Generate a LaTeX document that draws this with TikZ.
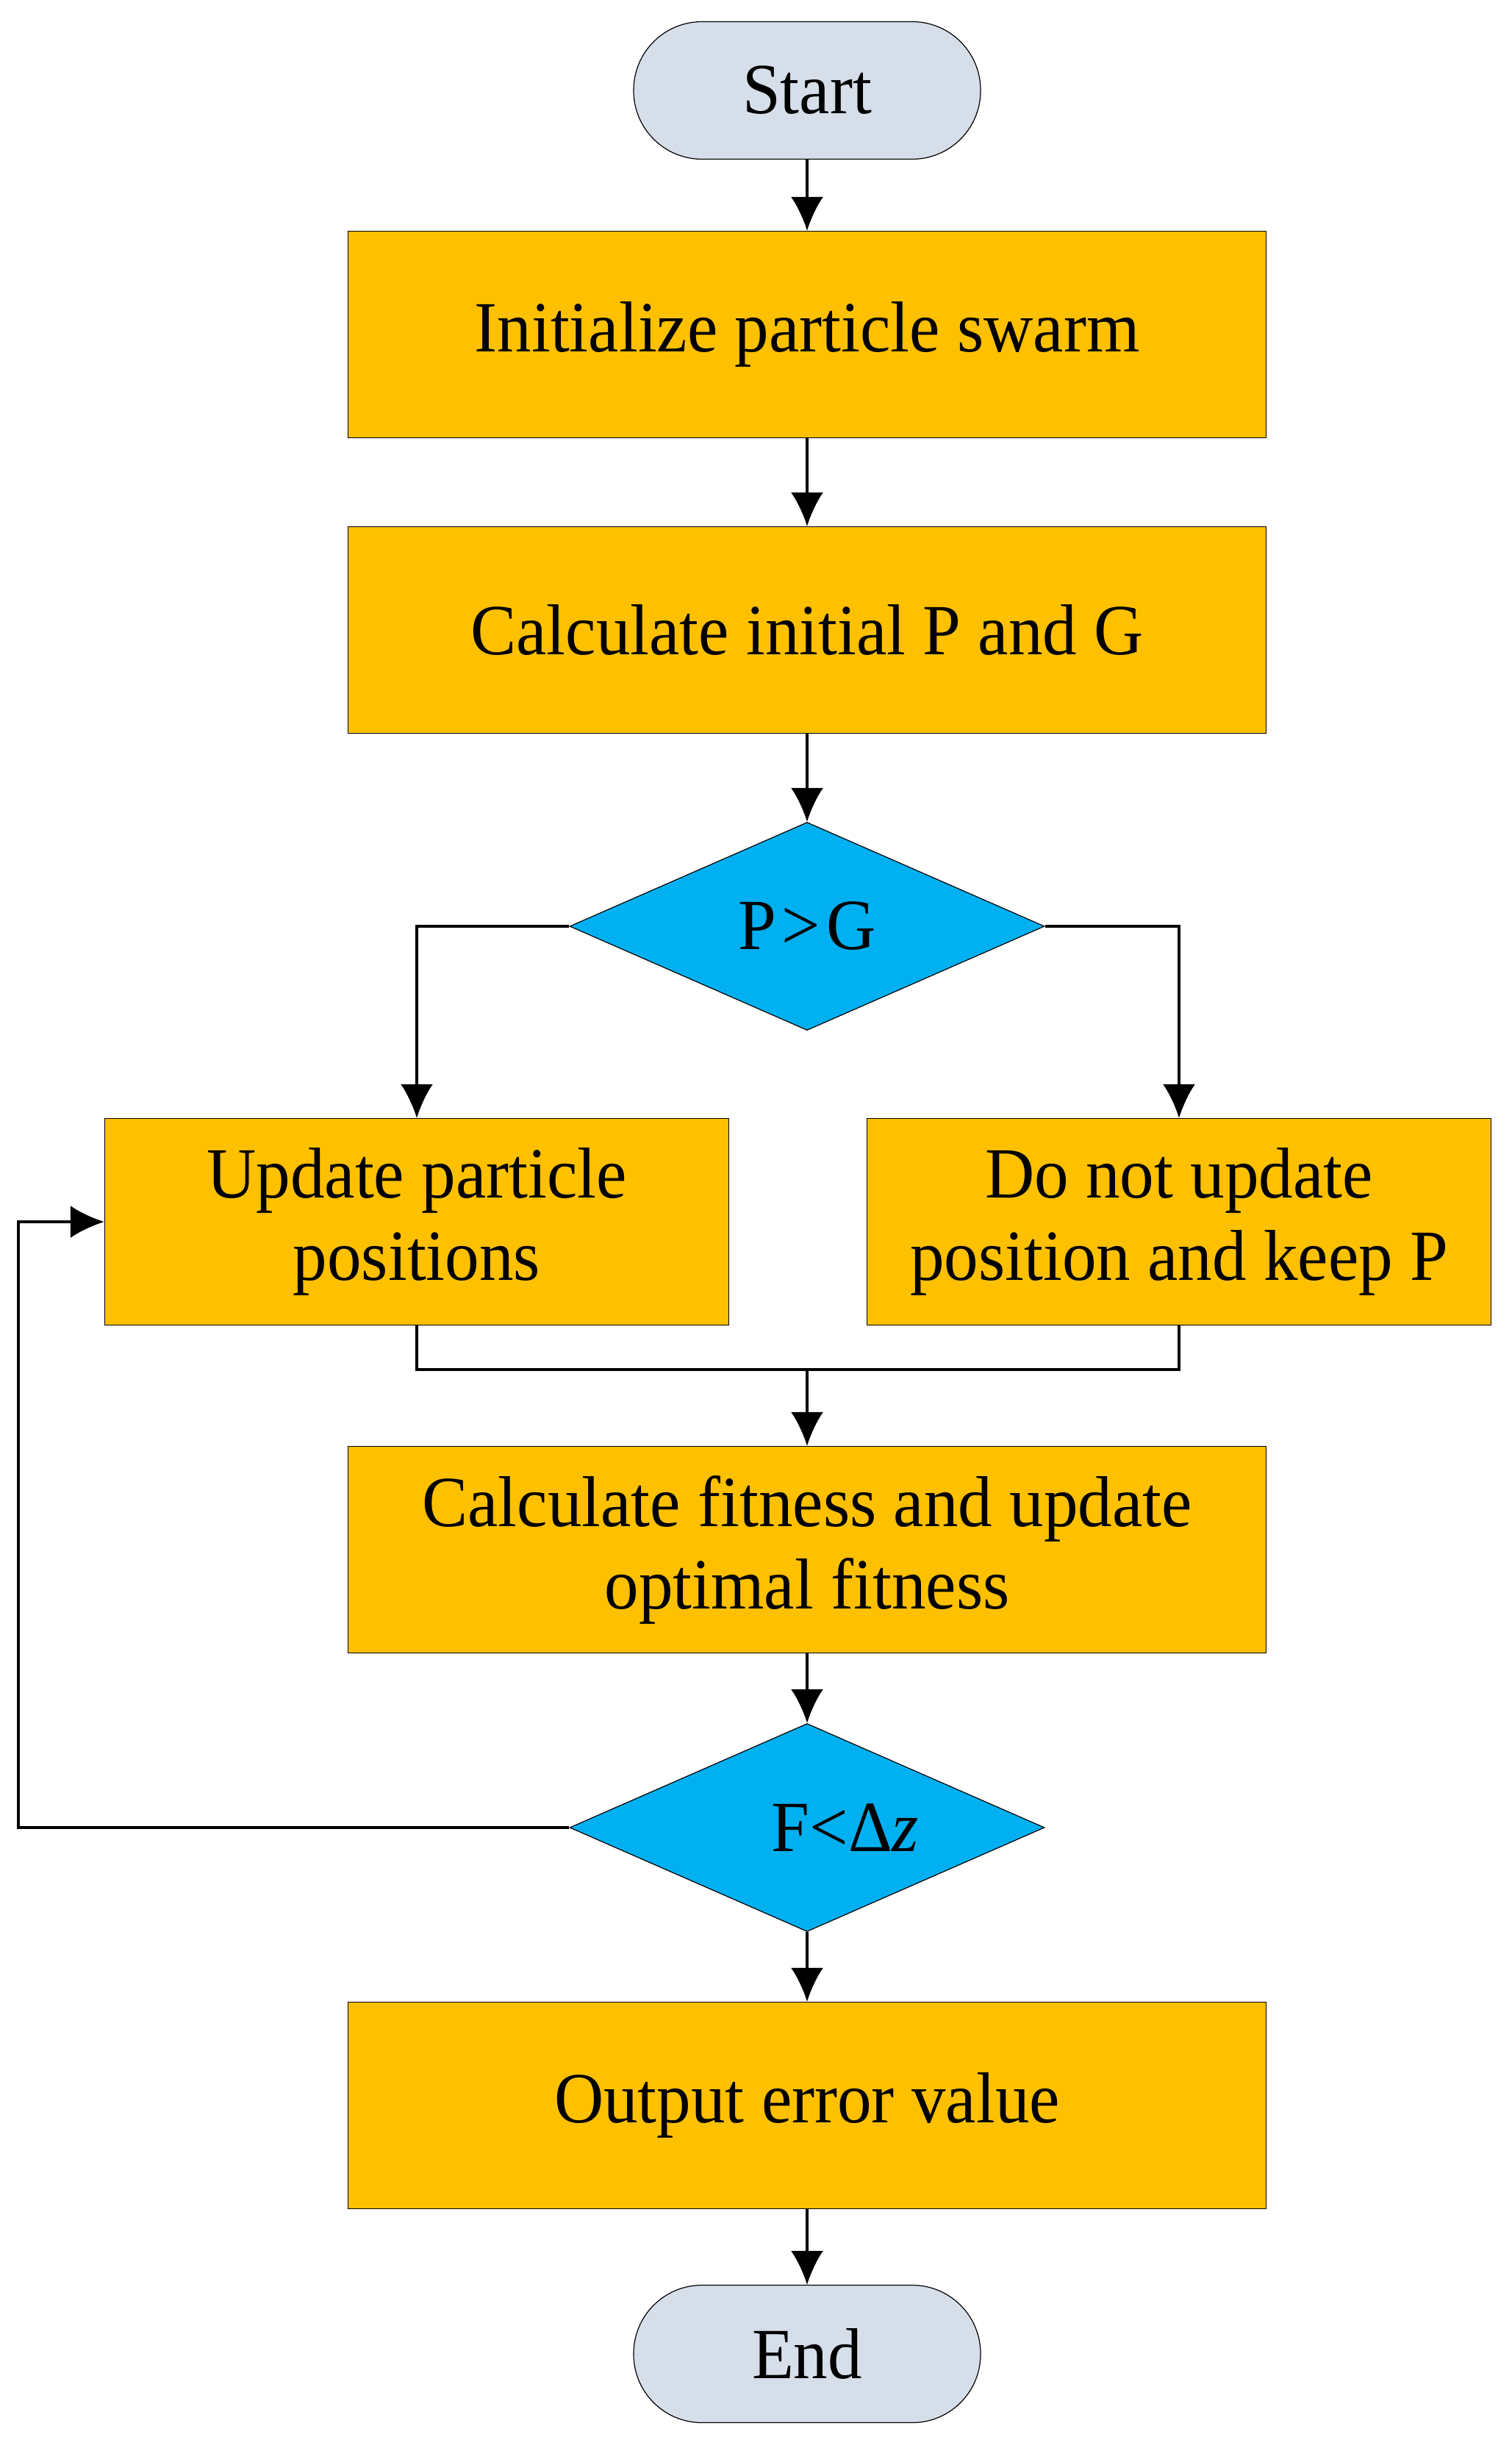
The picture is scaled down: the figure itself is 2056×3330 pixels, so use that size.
\documentclass[tikz,border=0pt]{standalone}
\usepackage{fontspec}
\setmainfont{Liberation Serif}[FakeStretch=0.95]
\usetikzlibrary{shapes.geometric,arrows.meta}
\definecolor{boxorange}{HTML}{FFC000}
\definecolor{decblue}{HTML}{00B0F0}
\definecolor{termgray}{HTML}{D6DEEA}
\begin{document}
\begin{tikzpicture}[x=1pt,y=-1pt,
  every node/.style={font=\fontsize{98}{112}\selectfont},
  procbox/.style={draw=black, line width=1.2pt, fill=boxorange, minimum width=1249pt, minimum height=281pt, inner sep=0pt, align=center},
  sidebox/.style={procbox, minimum width=849pt},
  termbox/.style={draw=black, line width=1.2pt, fill=termgray, minimum width=472pt, minimum height=187pt, inner sep=0pt, rounded corners=93pt},
  decision/.style={draw=black, line width=1.2pt, fill=decblue, diamond, minimum width=646pt, minimum height=283pt, inner sep=0pt},
  conn/.style={line width=4pt, line join=miter},
  arr/.style={conn, -{Latex[length=46pt,width=44pt]}}
]
\useasboundingbox (0,0) rectangle (2056,3330);
\node[termbox] (start) at (1098,123) {Start};
\node[procbox] (init) at (1098,455) {Initialize particle swarm};
\node[procbox] (calc) at (1098,857) {Calculate initial P and G};
\node[decision] (d1) at (1098,1260) {P\hspace{0.08em}>\hspace{0.08em}G};
\node[sidebox] (upd) at (567,1662) {Update particle\\positions};
\node[sidebox] (keep) at (1604,1662) {Do not update\\position and keep P};
\node[procbox] (fit) at (1098,2108) {Calculate fitness and update\\optimal fitness};
\node[decision] (d2) at (1098,2486) {};
\node (d2t) at (1150,2486) {F<Δ\textit{z}};
\node[procbox] (out) at (1098,2864) {Output error value};
\node[termbox] (end) at (1098,3202) {End};
\coordinate (merge) at (1098,1863);
\coordinate (loopx) at (25,2486);
\draw[arr] (start) -- (init);
\draw[arr] (init) -- (calc);
\draw[arr] (calc) -- (d1);
\draw[arr] (d1.west) -| (upd.north);
\draw[arr] (d1.east) -| (keep.north);
\draw[conn] (upd.south) |- (merge) -| (keep.south);
\draw[arr] (merge) -- (fit.north);
\draw[arr] (fit) -- (d2);
\draw[arr] (d2.west) -- (loopx) |- (upd.west);
\draw[arr] (d2) -- (out);
\draw[arr] (out) -- (end);
\end{tikzpicture}
\end{document}
